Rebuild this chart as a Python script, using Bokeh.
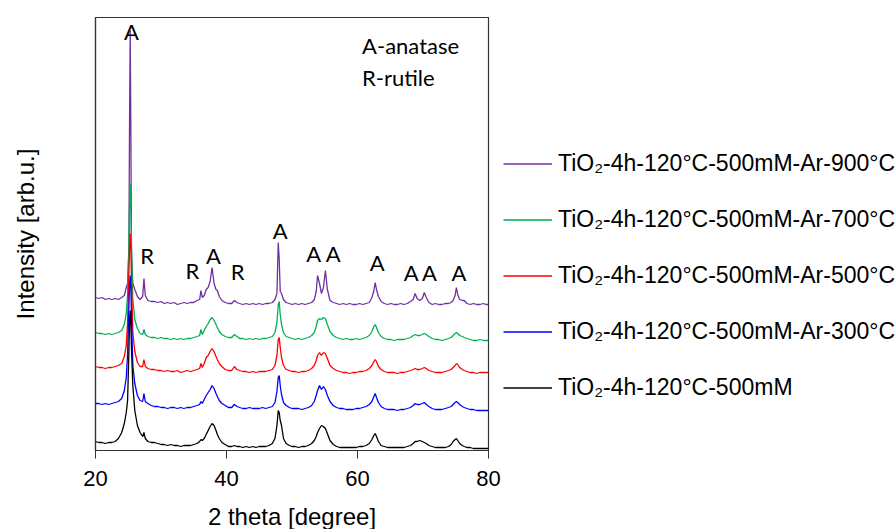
from bokeh.plotting import figure
from bokeh.models import ColumnDataSource, Range1d, FixedTicker, Legend, LegendItem, Label
from bokeh.core.properties import value
from bokeh.embed import file_html
from bokeh.resources import INLINE

# 2-theta sampling positions (degrees)
two_theta = [
    20.0, 20.5, 21.0, 21.5, 22.0, 22.5, 23.0, 23.5,
    24.0, 24.4, 24.7, 24.9, 25.1, 25.2, 25.3, 25.4, 25.5, 25.7, 26.0, 26.4, 26.8,
    27.2, 27.4, 27.6, 28.0, 28.5,
    29.0, 29.5, 30.0, 30.5, 31.0, 31.5, 32.0, 32.5, 33.0, 33.5, 34.0, 34.5, 35.0, 35.5,
    35.9, 36.1, 36.3, 36.6, 36.9, 37.2, 37.5, 37.8, 38.1, 38.4, 38.6, 38.9, 39.3, 39.8, 40.3, 40.8,
    41.2, 41.6, 42.0, 42.5, 43.0, 43.5, 44.0, 44.5, 45.0, 45.5, 46.0, 46.5, 47.0, 47.4,
    47.7, 47.9, 48.05, 48.2, 48.4, 48.7, 49.1, 49.6, 50.0, 50.5, 51.0, 51.5, 52.0, 52.5, 53.0,
    53.4, 53.7, 53.9, 54.2, 54.5, 54.8, 55.1, 55.4, 55.8, 56.3, 56.8, 57.3, 57.8, 58.3, 58.8,
    59.3, 59.8, 60.3, 60.8, 61.3, 61.8,
    62.2, 62.5, 62.7, 62.9, 63.2, 63.6, 64.1, 64.6, 65.1, 65.6, 66.1, 66.6, 67.1, 67.6, 68.1,
    68.5, 68.8, 69.1, 69.5, 69.9, 70.2, 70.5, 70.9, 71.4, 71.9, 72.4, 72.9, 73.4, 73.9, 74.3, 74.6,
    74.9, 75.1, 75.3, 75.6, 76.0, 76.3, 76.7, 77.2, 77.7, 78.2, 78.7, 79.2, 79.6, 80.0,
]

# Measured intensities (arb. u.) for each sample, one value per 2-theta position
i_ar900 = [
    12, 11, 12, 10, 11, 10, 11, 10,
    12, 14, 22, 26, 60, 190, 279, 175, 55, 26, 20, 13, 10,
    13, 31, 14, 9, 8,
    8, 7, 8, 6, 7, 6, 7, 5, 6, 7, 6, 7, 7, 9,
    10, 19, 12, 14, 20, 22, 28, 42, 26, 20, 19, 13, 9, 7, 6, 6,
    9, 7, 6, 5, 6, 5, 6, 5, 6, 5, 6, 6, 7, 10,
    16, 67, 50, 18, 16, 10, 7, 6, 5, 6, 5, 6, 5, 6, 7,
    10, 18, 34, 26, 16, 22, 39, 20, 9, 7, 6, 5, 6, 5, 6,
    5, 5, 6, 5, 6, 7,
    12, 19, 27, 20, 13, 8, 6, 5, 6, 5, 5, 6, 5, 6, 8,
    10, 16, 11, 9, 11, 17, 12, 7, 5, 6, 5, 5, 6, 6, 7, 9,
    14, 22, 15, 10, 9, 9, 6, 5, 6, 5, 5, 6, 5, 5,
]
i_ar700 = [
    12, 11, 11, 10, 11, 10, 11, 12,
    14, 20, 31, 50, 100, 140, 161, 135, 95, 45, 25, 16, 11,
    10, 15, 10, 8, 7,
    7, 6, 7, 6, 6, 5, 6, 5, 6, 5, 6, 6, 7, 8,
    9, 15, 10, 14, 18, 21, 25, 27, 24, 20, 17, 13, 10, 8, 7, 7,
    10, 8, 6, 6, 5, 6, 5, 6, 5, 6, 6, 7, 8, 12,
    22, 40, 43, 30, 20, 12, 8, 7, 6, 5, 6, 5, 6, 7, 9,
    12, 18, 24, 26, 25, 27, 26, 20, 13, 9, 7, 6, 5, 6, 5,
    5, 6, 5, 6, 7, 9,
    13, 18, 20, 17, 12, 8, 6, 5, 5, 4, 5, 5, 5, 6, 7,
    9, 10, 9, 9, 10, 11, 10, 8, 6, 5, 5, 4, 5, 6, 7, 9,
    11, 12, 11, 9, 8, 7, 6, 5, 4, 4, 5, 4, 4, 4,
]
i_ar500 = [
    11, 10, 10, 9, 10, 10, 11, 12,
    14, 21, 32, 55, 105, 130, 144, 128, 95, 45, 26, 15, 11,
    11, 18, 11, 9, 8,
    8, 7, 7, 6, 7, 6, 6, 7, 5, 6, 7, 6, 7, 8,
    9, 14, 10, 14, 20, 22, 26, 29, 26, 21, 18, 14, 11, 8, 7, 7,
    11, 8, 7, 6, 6, 5, 6, 5, 6, 6, 6, 7, 8, 12,
    22, 38, 40, 30, 20, 12, 8, 7, 6, 6, 5, 6, 6, 7, 9,
    12, 17, 22, 25, 22, 25, 24, 19, 12, 9, 7, 6, 5, 5, 4,
    5, 5, 6, 6, 7, 9,
    12, 16, 18, 16, 11, 8, 6, 5, 5, 5, 4, 5, 5, 6, 7,
    8, 9, 8, 8, 9, 10, 9, 7, 6, 5, 5, 5, 6, 7, 8, 10,
    12, 14, 13, 10, 8, 7, 6, 5, 5, 4, 5, 5, 5, 5,
]
i_ar300 = [
    10, 10, 9, 10, 9, 10, 11, 12,
    15, 23, 36, 60, 108, 128, 138, 125, 95, 48, 30, 18, 13,
    12, 20, 12, 10, 8,
    7, 7, 6, 6, 5, 6, 6, 5, 6, 5, 6, 6, 7, 8,
    9, 12, 10, 14, 18, 21, 24, 28, 25, 20, 17, 13, 10, 8, 6, 6,
    9, 7, 6, 5, 5, 6, 5, 5, 5, 6, 5, 6, 7, 11,
    22, 36, 38, 28, 19, 11, 8, 6, 5, 5, 5, 4, 5, 6, 8,
    12, 18, 23, 28, 24, 27, 24, 18, 12, 8, 6, 5, 5, 4, 4,
    4, 5, 5, 6, 7, 9,
    12, 17, 20, 16, 11, 7, 5, 4, 4, 4, 3, 4, 4, 5, 6,
    8, 10, 9, 9, 10, 11, 9, 7, 5, 4, 4, 4, 5, 6, 7, 9,
    11, 12, 11, 9, 7, 6, 5, 4, 4, 3, 3, 3, 3, 3,
]
i_asprep = [
    9, 8, 8, 7, 8, 8, 9, 12,
    18, 27, 38, 50, 100, 130, 140, 125, 100, 65, 40, 25, 18,
    14, 18, 12, 9, 8,
    8, 7, 6, 6, 5, 6, 5, 5, 4, 5, 5, 5, 6, 7,
    9, 11, 10, 12, 16, 20, 24, 27, 25, 20, 16, 12, 8, 6, 4, 4,
    5, 4, 4, 3, 4, 3, 4, 3, 4, 4, 4, 5, 7, 12,
    25, 40, 38, 30, 25, 12, 7, 5, 4, 4, 3, 4, 4, 5, 7,
    10, 14, 18, 22, 25, 24, 22, 17, 10, 6, 4, 3, 3, 3, 3,
    3, 3, 4, 4, 5, 7,
    11, 15, 17, 14, 9, 5, 4, 3, 3, 3, 3, 3, 3, 4, 5,
    7, 9, 9, 10, 9, 8, 7, 5, 4, 3, 3, 3, 3, 4, 6, 9,
    11, 12, 10, 7, 5, 4, 3, 3, 2, 2, 2, 2, 2, 2,
]

series_labels = [
    "TiO\u2082-4h-120°C-500mM-Ar-900°C",
    "TiO\u2082-4h-120°C-500mM-Ar-700°C",
    "TiO\u2082-4h-120°C-500mM-Ar-500°C",
    "TiO\u2082-4h-120°C-500mM-Ar-300°C",
    "TiO\u2082-4h-120°C-500mM",
]
series_data = [i_ar900, i_ar700, i_ar500, i_ar300, i_asprep]
stack_offsets = [141, 106, 73, 37, 0]
series_colors = ["#7030A0", "#00B050", "#FF0000", "#0000FF", "#000000"]

# Phase markers: A = anatase, R = rutile
marker_text = ["A", "R", "R", "A", "R", "A", "A", "A", "A", "A", "A", "A"]
marker_x = [25.5, 27.9, 34.8, 38.0, 41.7, 48.2, 53.3, 56.3, 63.0, 68.2, 71.0, 75.5]
marker_y = [419, 195, 180, 195, 179, 220, 197, 197, 188, 178, 178, 178]

FONT = "Liberation Sans"
NOTE_FONT = "Lato"

p = figure(
    frame_width=393, frame_height=433,
    x_range=Range1d(20, 80), y_range=Range1d(0, 433),
    output_backend="svg", toolbar_location=None,
    min_border_left=95, min_border_top=17, min_border_bottom=79, min_border_right=0,
)
p.grid.visible = False
p.outline_line_color = "#333333"
p.outline_line_width = 1.2
p.background_fill_color = "white"
p.border_fill_color = "white"

# bottom axis
xa = p.xaxis[0]
xa.ticker = FixedTicker(ticks=[20, 40, 60, 80])
xa.minor_tick_line_color = None
xa.major_tick_in = 0
xa.major_tick_out = 8
xa.major_tick_line_color = "#333333"
xa.axis_line_color = "#333333"
xa.axis_line_width = 1.2
xa.major_label_text_font = FONT
xa.major_label_text_font_size = "22px"
xa.major_label_text_color = "#000000"
xa.major_label_standoff = 12
xa.axis_label = "2 theta [degree]"
xa.axis_label_text_font = FONT
xa.axis_label_text_font_size = "24px"
xa.axis_label_text_font_style = "normal"
xa.axis_label_text_color = "#000000"
xa.axis_label_standoff = 14

# left axis: no ticks
ya = p.yaxis[0]
ya.ticker = FixedTicker(ticks=[])
ya.minor_tick_line_color = None
ya.major_tick_line_color = None
ya.axis_line_color = "#333333"
ya.axis_line_width = 1.2
ya.axis_label = "Intensity [arb.u.]"
ya.axis_label_text_font = FONT
ya.axis_label_text_font_size = "24px"
ya.axis_label_text_font_style = "normal"
ya.axis_label_text_color = "#000000"
ya.axis_label_standoff = 57

items = []
for label, data, off, col in zip(series_labels, series_data, stack_offsets, series_colors):
    src = ColumnDataSource(dict(x=two_theta, y=[v + off for v in data]))
    r = p.line("x", "y", source=src, line_color=col, line_width=1.3)
    items.append(LegendItem(label=label, renderers=[r]))

marks = ColumnDataSource(dict(x=marker_x, y=marker_y, t=marker_text))
p.text("x", "y", text="t", source=marks, text_font=value(NOTE_FONT),
       text_font_size="22px", text_align="center", text_baseline="middle",
       text_color="#000000")

p.add_layout(Label(x=60.7, y=405, text="A-anatase", text_font=NOTE_FONT,
                   text_font_size="22px", text_baseline="middle", text_color="#000000"))
p.add_layout(Label(x=60.7, y=373, text="R-rutile", text_font=NOTE_FONT,
                   text_font_size="22px", text_baseline="middle", text_color="#000000"))

# legend in its own panel to the right of the frame
legend = Legend(items=items, location=(15, 49))
legend.label_text_font = FONT
legend.label_text_font_size = "23px"
legend.label_text_color = "#000000"
legend.glyph_width = 49
legend.glyph_height = 25
legend.label_height = 25
legend.label_standoff = 6
legend.spacing = 29
legend.padding = 3
legend.margin = 0
legend.border_line_color = None
legend.background_fill_alpha = 0
p.add_layout(legend, "right")

open("out.html", "w").write(file_html(p, INLINE))
